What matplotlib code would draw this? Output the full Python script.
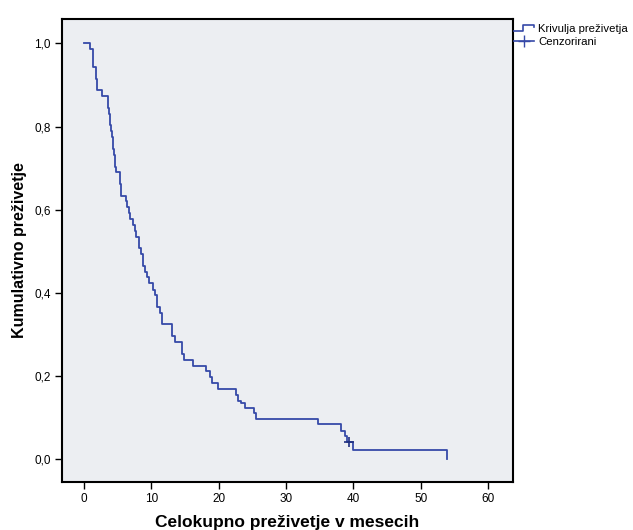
import matplotlib
matplotlib.use("Agg")
import matplotlib.pyplot as plt
from matplotlib.lines import Line2D
from matplotlib.legend_handler import HandlerBase

plt.rcParams['font.family'] = ['Liberation Sans', 'DejaVu Sans']

# Kaplan-Meier step points (time in months, cumulative survival)
times = [0, 0.9, 1.3, 1.8, 2.0, 2.7, 3.5, 3.65, 3.8, 3.95, 4.1, 4.25, 4.35, 4.45,
         4.6, 4.75, 5.35, 5.5, 6.2, 6.45, 6.7, 6.9, 7.3, 7.5, 7.7, 8.2, 8.45, 8.75,
         9.05, 9.35, 9.65, 10.25, 10.55, 10.8, 11.3, 11.55, 13.0, 13.5, 14.6, 14.9,
         16.2, 18.1, 18.7, 19.0, 19.9, 22.5, 22.85, 23.35, 23.9, 25.3, 25.6, 34.8,
         38.2, 38.7, 39.0, 40.0, 53.9]
surv = [1.000, 0.986, 0.944, 0.915, 0.887, 0.873, 0.845, 0.831, 0.803, 0.789, 0.775,
        0.761, 0.746, 0.732, 0.704, 0.690, 0.662, 0.634, 0.620, 0.606, 0.592, 0.577,
        0.563, 0.549, 0.535, 0.507, 0.493, 0.465, 0.451, 0.437, 0.423, 0.408, 0.394,
        0.366, 0.352, 0.324, 0.296, 0.282, 0.254, 0.239, 0.225, 0.211, 0.197, 0.183,
        0.169, 0.155, 0.141, 0.134, 0.122, 0.110, 0.096, 0.084, 0.068, 0.055, 0.042,
        0.021, 0.000]
censor_t = [39.3]
censor_s = [0.042]

xticks = [0, 10, 20, 30, 40, 50, 60]
yticks = [0.0, 0.2, 0.4, 0.6, 0.8, 1.0]

blue = '#3649a8'

fig = plt.figure(figsize=(6.33, 5.30), dpi=100)
ax = fig.add_axes([0.098, 0.0906, 0.712, 0.8736])
ax.set_facecolor('#eceef2')

ax.step(times, surv, where='post', color=blue, lw=1.3)
ax.plot(censor_t, censor_s, '+', color='#1f2f80', ms=7, mew=1.2)

ax.set_xlim(-3.26, 63.65)
ax.set_ylim(-0.055, 1.059)
ax.set_xticks(xticks)
ax.set_xticklabels([str(v) for v in xticks], fontsize=8.5)
ax.set_yticks(yticks)
ax.set_yticklabels([f'{v:.1f}'.replace('.', ',') for v in yticks], fontsize=8.5)
ax.tick_params(direction='out', length=5, width=1, color='black', pad=3)
for s in ax.spines.values():
    s.set_linewidth(1.5)

ax.set_xlabel('Celokupno preživetje v mesecih', fontsize=12.5, fontweight='bold', labelpad=7)
ax.set_ylabel('Kumulativno preživetje', fontsize=11.5, fontweight='bold', labelpad=5)


class StepHandler(HandlerBase):
    def create_artists(self, legend, orig_handle, x0, y0, width, height, fontsize, trans):
        xs = [x0, x0 + width * 0.45, x0 + width * 0.45, x0 + width, x0 + width]
        ys = [y0 + height * 0.15, y0 + height * 0.15, y0 + height * 0.85,
              y0 + height * 0.85, y0 + height * 0.55]
        ln = Line2D(xs, ys, color=blue, lw=1.2, transform=trans)
        return [ln]


h1 = Line2D([], [], color=blue)
h2 = Line2D([], [], color=blue, marker='+', ms=9, lw=1.2)
fig.legend([h1, h2], ['Krivulja preživetja', 'Cenzorirani'],
           handler_map={h1: StepHandler()},
           loc='upper left', bbox_to_anchor=(0.812, 0.955), frameon=False,
           fontsize=8.2, handlelength=1.8, handletextpad=0.3, labelspacing=0.3,
           borderaxespad=0, borderpad=0)

fig.savefig('out.png', dpi=100)
